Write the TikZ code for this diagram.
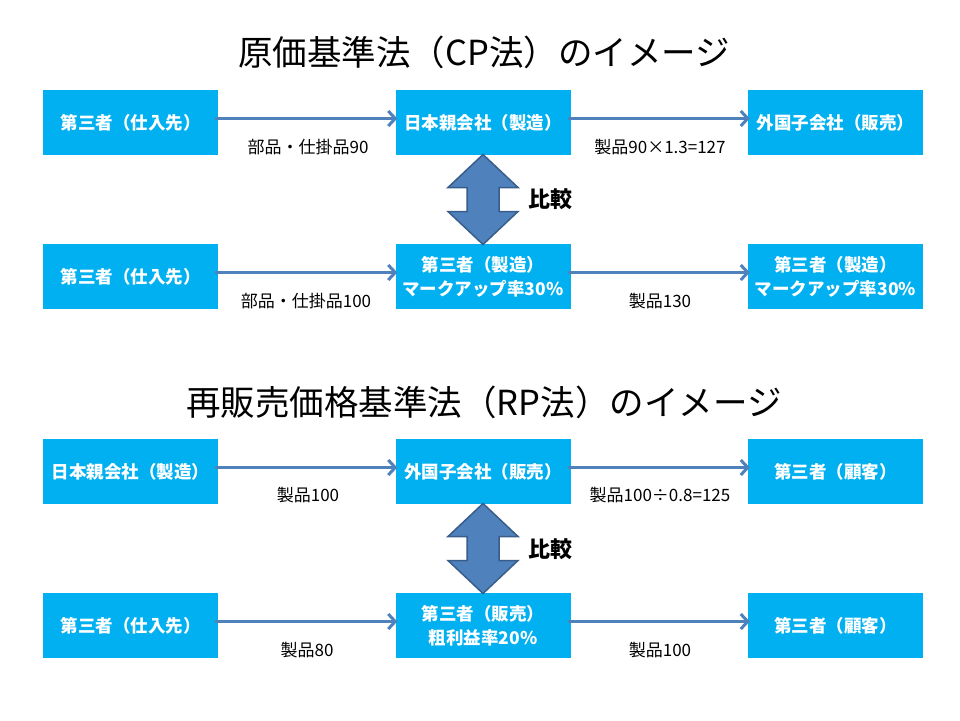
\documentclass[tikz,border=0pt]{standalone}
\usepackage{fontspec}
\setmainfont{Noto Sans CJK JP}
\usetikzlibrary{arrows.meta}
\definecolor{boxcyan}{HTML}{00B0F0}
\definecolor{arrblue}{HTML}{4F81BD}
\definecolor{arrdark}{HTML}{385D8A}
\begin{document}
\begin{tikzpicture}[x=1pt,y=-1pt,
  box/.style={fill=boxcyan,minimum width=175pt,minimum height=65pt,inner sep=0pt,text=white,align=center,font=\bfseries\fontsize{17.5}{24}\selectfont},
  arr/.style={draw=arrblue,line width=3pt,-{Straight Barb[length=7pt,width=15pt,line width=3pt]}},
  lbl/.style={font=\fontsize{17}{20}\selectfont,inner sep=0pt},
  ttl/.style={font=\fontsize{34.5}{40}\selectfont,inner sep=0pt},
  cmp/.style={font=\bfseries\fontsize{22}{24}\selectfont,inner sep=0pt},
  dbl/.style={fill=arrblue,draw=arrdark,line width=1.5pt,line join=miter}]
\useasboundingbox (0,0) rectangle (960,720);
% titles
\node[ttl] (t1) at (484,52) {原価基準法（CP法）のイメージ};
\node[ttl] (t2) at (484,402) {再販売価格基準法（RP法）のイメージ};
% row 1
\node[box] (a1) at (130.5,122.5) {第三者（仕入先）};
\node[box] (b1) at (483,122.5) {日本親会社（製造）};
\node[box] (c1) at (835.5,122.5) {外国子会社（販売）};
% row 2
\node[box] (a2) at (130.5,276.5) {第三者（仕入先）};
\node[box] (b2) at (483,276.5) {第三者（製造）\\マークアップ率30\%};
\node[box] (c2) at (835.5,276.5) {第三者（製造）\\マークアップ率30\%};
% row 3
\node[box] (a3) at (130.5,471.5) {日本親会社（製造）};
\node[box] (b3) at (483,471.5) {外国子会社（販売）};
\node[box] (c3) at (835.5,471.5) {第三者（顧客）};
% row 4
\node[box] (a4) at (130.5,625.5) {第三者（仕入先）};
\node[box] (b4) at (483,625.5) {第三者（販売）\\粗利益率20\%};
\node[box] (c4) at (835.5,625.5) {第三者（顧客）};
% arrows
\foreach \r in {1,2,3,4}{
  \draw[arr] ([yshift=4pt,xshift=-3pt]a\r.east) -- ([yshift=4pt,xshift=2pt]b\r.west);
  \draw[arr] ([yshift=4pt,xshift=-3pt]b\r.east) -- ([yshift=4pt,xshift=2pt]c\r.west);
}
% labels
\node[lbl] (l11) at (308,147) {部品・仕掛品90};
\node[lbl] (l12) at (660,147) {製品90×1.3=127};
\node[lbl] (l21) at (306,301) {部品・仕掛品100};
\node[lbl] (l22) at (660,301) {製品130};
\node[lbl] (l31) at (308,495) {製品100};
\node[lbl] (l32) at (660,495) {製品100÷0.8=125};
\node[lbl] (l41) at (307,650) {製品80};
\node[lbl] (l42) at (660,650) {製品100};
% comparison double arrows
\path (b1.south) -- (b2.north) coordinate[midway] (m1);
\path (b3.south) -- (b4.north) coordinate[midway] (m2);
\foreach \m in {m1,m2}{
  \begin{scope}[shift={(\m)}]
    \draw[dbl] (0,-45) -- (35,-12) -- (16,-12) -- (16,12) -- (35,12) -- (0,45)
      -- (-35,12) -- (-16,12) -- (-16,-12) -- (-35,-12) -- cycle;
  \end{scope}
}
\node[cmp] (k1) at (550,199) {比較};
\node[cmp] (k2) at (550,549) {比較};
\end{tikzpicture}
\end{document}
